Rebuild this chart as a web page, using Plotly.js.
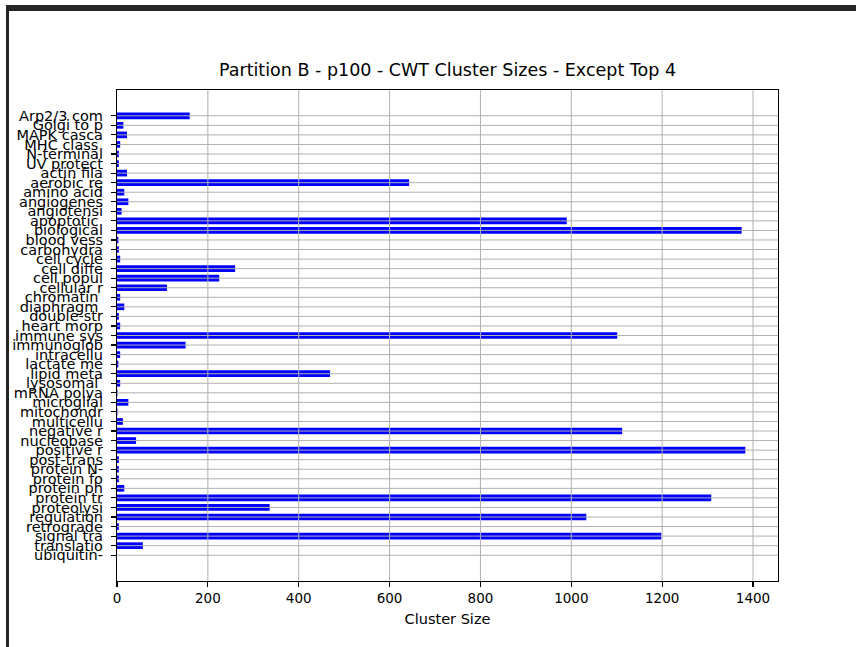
<!DOCTYPE html>
<html>
<head>
<meta charset="utf-8">
<script src="https://cdn.plot.ly/plotly-3.0.1.min.js"></script>
<style>
  html, body { margin: 0; padding: 0; background: #fff; }
  #wrap { position: relative; width: 856px; height: 647px; overflow: hidden; }
  #chart { position: absolute; left: 0; top: 0; width: 856px; height: 647px; }
  #frame { position: absolute; left: 6px; top: 5px; width: 856px; height: 650px;
           border-top: 6px solid #262626; border-left: 3px solid #262626; pointer-events: none; }
</style>
</head>
<body>
<div id="wrap">
  <div id="chart"></div>
  <div id="frame"></div>
</div>
<script>
const categories = [
  "Arp2/3 com", "Golgi to p", "MAPK casca", "MHC class ", "N-terminal", "UV protect",
  "actin fila", "aerobic re", "amino acid", "angiogenes", "angiotensi", "apoptotic ",
  "biological", "blood vess", "carbohydra", "cell cycle", "cell diffe", "cell popul",
  "cellular r", "chromatin ", "diaphragm ", "double-str", "heart morp", "immune sys",
  "immunoglob", "intracellu", "lactate me", "lipid meta", "lysosomal ", "mRNA polya",
  "microglial", "mitochondr", "multicellu", "negative r", "nucleobase", "positive r",
  "post-trans", "protein N-", "protein fo", "protein ph", "protein tr", "proteolysi",
  "regulation", "retrograde", "signal tra", "translatio", "ubiquitin-"
];
const clusterSizes = [
  160, 14, 22, 7, 4, 4,
  22, 643, 16, 25, 10, 990,
  1375, 3, 4, 7, 260, 225,
  110, 7, 16, 4, 7, 1101,
  151, 7, 3, 469, 7, 1,
  25, 1, 13, 1112, 42, 1383,
  4, 4, 4, 16, 1308, 336,
  1033, 4, 1198, 57, 0
];
const xTickVals = [0, 200, 400, 600, 800, 1000, 1200, 1400];

const gridColor = "#b0b0b0";
const shapes = [];
xTickVals.filter(v => v > 0).forEach(v => shapes.push({
  type: "line", xref: "x", yref: "paper", x0: v, x1: v, y0: 0, y1: 1,
  line: {color: gridColor, width: 1}, layer: "above"
}));
categories.forEach(c => shapes.push({
  type: "line", xref: "paper", yref: "y", x0: 0, x1: 1, y0: c, y1: c,
  line: {color: gridColor, width: 1}, layer: "above"
}));

const trace = {
  type: "bar", orientation: "h",
  y: categories, x: clusterSizes,
  width: 0.7,
  marker: {color: "#0000ff", line: {width: 0}},
  hoverinfo: "x+y"
};

const fam = "DejaVu Sans, sans-serif";
const xFont = {family: fam, color: "#000", size: 13.5};
const yFont = {family: fam, color: "#000", size: 14.5};

const layout = {
  width: 856, height: 647,
  margin: {l: 117, r: 78, t: 90, b: 66, pad: 0},
  paper_bgcolor: "#fff", plot_bgcolor: "#fff",
  font: xFont,
  showlegend: false,
  title: {
    text: "Partition B - p100 - CWT Cluster Sizes - Except Top 4",
    font: {family: fam, size: 17.5, color: "#000"},
    xref: "paper", x: 0.5, xanchor: "center",
    yref: "container", y: 1 - 70 / 647, yanchor: "middle"
  },
  xaxis: {
    range: [0, 1455],
    tickmode: "array", tickvals: xTickVals, ticktext: xTickVals.map(String),
    showgrid: false, zeroline: false,
    showline: true, linecolor: "#000", linewidth: 1.1, mirror: true,
    ticks: "outside", ticklen: 5, tickwidth: 1.1, tickcolor: "#000",
    tickfont: xFont,
    title: {text: "Cluster Size", font: {family: fam, color: "#000", size: 14.5}, standoff: 8}
  },
  yaxis: {
    type: "category",
    range: [48.7, -2.7],
    tickmode: "array", tickvals: categories, ticktext: categories,
    showgrid: false, zeroline: false,
    showline: true, linecolor: "#000", linewidth: 1.1, mirror: true,
    ticks: "outside", ticklen: 5, tickwidth: 1.1, tickcolor: "#000",
    ticklabelstandoff: 5,
    tickfont: yFont
  },
  shapes: shapes,
  bargap: 0.3
};

Plotly.newPlot("chart", [trace], layout, {displayModeBar: false, staticPlot: true});
</script>
</body>
</html>
